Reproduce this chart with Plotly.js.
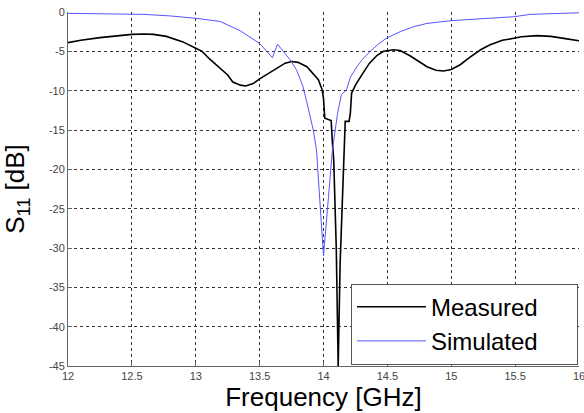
<!DOCTYPE html>
<html>
<head>
<meta charset="utf-8">
<script src="https://cdn.plot.ly/plotly-3.0.1.min.js"></script>
<style>html,body{margin:0;padding:0;background:#fff;}#chart{width:584px;height:413px;}</style>
</head>
<body>
<div id="chart"></div>
<script>
// Measured S11 (GHz, dB)
const measFreq = [12.0,12.1,12.25,12.4,12.5,12.6,12.67,12.77,12.9,13.0,13.05,13.11,13.19,13.25,13.29,13.35,13.39,13.45,13.5,13.55,13.6,13.65,13.7,13.75,13.8,13.87,13.92,13.96,13.99,14.0,14.01,14.04,14.06,14.07,14.08,14.1,14.115,14.13,14.16,14.165,14.17,14.2,14.21,14.22,14.25,14.3,14.36,14.42,14.47,14.55,14.6,14.68,14.75,14.81,14.88,14.94,15.0,15.07,15.15,15.23,15.3,15.4,15.47,15.55,15.67,15.78,15.88,16.0];
const measDb   = [-3.9,-3.6,-3.26,-3.0,-2.85,-2.8,-2.84,-3.1,-3.8,-4.6,-5.0,-6.0,-7.1,-8.0,-8.9,-9.3,-9.4,-9.1,-8.5,-8.0,-7.5,-6.95,-6.5,-6.3,-6.4,-6.95,-7.8,-8.6,-9.9,-11.0,-13.5,-13.7,-13.8,-16.7,-18.8,-30.0,-45.0,-32.0,-18.8,-15.0,-13.9,-13.9,-12.9,-10.3,-9.3,-8.0,-6.5,-5.5,-5.0,-4.8,-4.9,-5.6,-6.3,-6.95,-7.4,-7.5,-7.3,-6.7,-5.7,-4.8,-4.2,-3.6,-3.4,-3.15,-3.0,-3.1,-3.35,-3.65];
// Simulated S11 (GHz, dB)
const simFreq = [12.0,12.3,12.59,12.8,13.0,13.19,13.35,13.5,13.6,13.64,13.74,13.79,13.84,13.87,13.92,13.945,13.97,14.0,14.04,14.07,14.11,14.14,14.18,14.21,14.26,14.3,14.36,14.42,14.49,14.6,14.7,14.81,15.0,15.26,15.49,15.62,16.0];
const simDb   = [-0.17,-0.2,-0.3,-0.5,-0.8,-1.2,-2.4,-4.0,-5.8,-4.1,-6.1,-7.4,-9.5,-11.5,-15.0,-17.5,-23.6,-31.0,-23.3,-17.5,-12.9,-10.5,-9.9,-8.3,-7.0,-6.1,-5.1,-4.2,-3.35,-2.5,-1.9,-1.45,-1.1,-0.8,-0.6,-0.3,-0.1];
const xTicks = [12,12.5,13,13.5,14,14.5,15,15.5,16];
const xTickText = ['12','12.5','13','13.5','14','14.5','15','15.5','16'];
const yTicks = [0,-5,-10,-15,-20,-25,-30,-35,-40,-45];
const yTickText = ['0','-5','-10','-15','-20','-25','-30','-35','-40','-45'];
const seriesNames = ['Measured\u00a0\u00a0\u00a0\u00a0\u00a0', 'Simulated\u00a0\u00a0\u00a0\u00a0\u00a0'];

const titleFont = {family:'Liberation Sans, Arial, sans-serif', size:26, color:'#000'};
const tickFont = {family:'Liberation Sans, Arial, sans-serif', size:11, color:'#444'};

const traces = [
  {x: measFreq, y: measDb, type:'scatter', mode:'lines', name:seriesNames[0],
   line:{color:'#000000', width:1.6}},
  {x: simFreq, y: simDb, type:'scatter', mode:'lines', name:seriesNames[1],
   line:{color:'#5555ff', width:1}}
];

const axisCommon = {
  showgrid:true, gridcolor:'#333', griddash:'dot', gridwidth:1,
  showline:true, linecolor:'#666', linewidth:1, mirror:false,
  ticks:'inside', ticklen:4, tickcolor:'#666',
  zeroline:false, tickfont: tickFont, fixedrange:true,
  ticklabeloverflow:'allow'
};

const layout = {
  width:584, height:413,
  margin:{l:68, r:5, t:12, b:47, pad:0},
  paper_bgcolor:'#fff', plot_bgcolor:'#fff',
  showlegend:true,
  xaxis: Object.assign({}, axisCommon, {
    range:[12,16], tickvals:xTicks, ticktext:xTickText,
    title:{text:'Frequency [GHz]', font:titleFont, standoff:3}
  }),
  yaxis: Object.assign({}, axisCommon, {
    range:[-45,0], tickvals:yTicks, ticktext:yTickText,
    title:{text:'S<sub>11</sub> [dB]', font:titleFont, standoff:16}
  }),
  legend:{
    x:0.998, y:0.004, xanchor:'right', yanchor:'bottom',
    bgcolor:'#fff', bordercolor:'#555', borderwidth:1,
    font:{family:'Liberation Sans, Arial, sans-serif', size:24, color:'#000'},
    itemwidth:69, tracegroupgap:0
  }
};

Plotly.newPlot('chart', traces, layout, {displayModeBar:false, staticPlot:true});
</script>
</body>
</html>
